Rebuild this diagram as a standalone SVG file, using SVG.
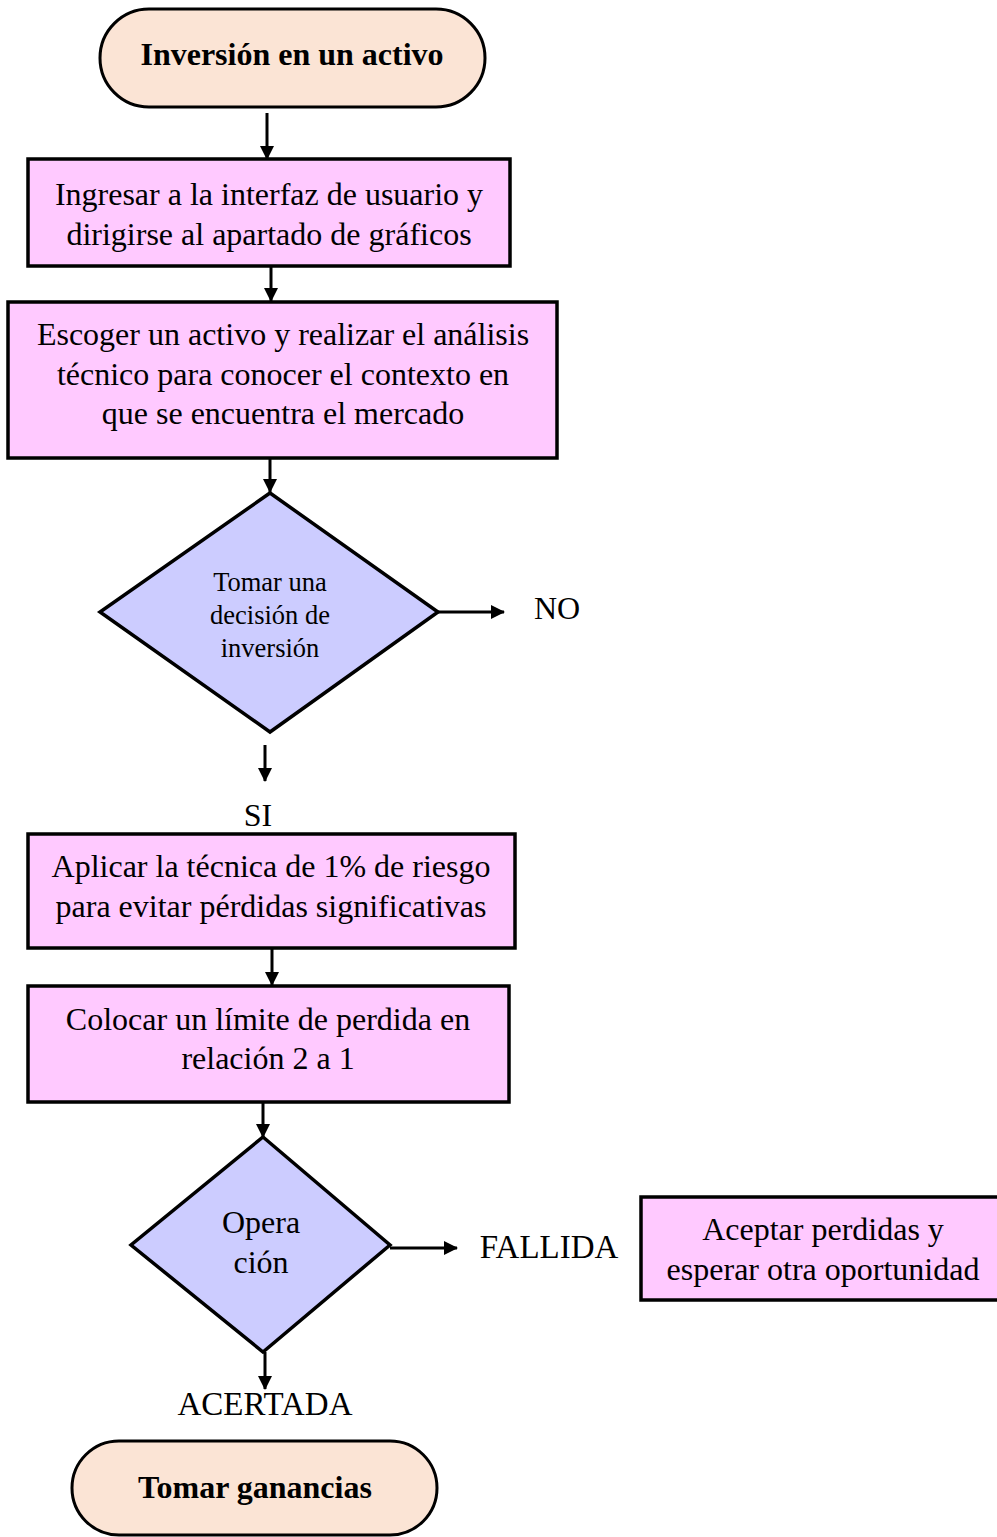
<svg xmlns="http://www.w3.org/2000/svg" width="997" height="1537" viewBox="0 0 997 1537">
<defs>
<marker id="ah" markerWidth="14" markerHeight="14" refX="13" refY="7" orient="auto" markerUnits="userSpaceOnUse" viewBox="0 0 14 14"><path d="M0,0 L14,7 L0,14 z" fill="#000"/></marker>
<style>
.term{fill:#fbe4d5;stroke:#000;stroke-width:3}
.box{fill:#ffc9ff;stroke:#000;stroke-width:3.5}
.dia{fill:#ccccff;stroke:#000;stroke-width:3.5}
.t{font-family:"Liberation Serif","Times New Roman",serif;font-size:32px;fill:#000;text-anchor:middle}
.b{font-weight:bold;font-size:32px}
.s{font-size:26.5px}
.l{font-size:33px}
.conn{stroke:#000;stroke-width:3;fill:none;marker-end:url(#ah)}
</style>
</defs>
<rect width="997" height="1537" fill="#fff"/>
<g id="connectors">
<line class="conn" x1="267" y1="113" x2="267" y2="159"/>
<line class="conn" x1="271" y1="266" x2="271" y2="301"/>
<line class="conn" x1="270" y1="458" x2="270" y2="492"/>
<line class="conn" x1="438" y1="612" x2="504" y2="612"/>
<line class="conn" x1="265" y1="745" x2="265" y2="781"/>
<line class="conn" x1="272" y1="948" x2="272" y2="985"/>
<line class="conn" x1="263" y1="1102" x2="263" y2="1137"/>
<line class="conn" x1="390" y1="1248" x2="457" y2="1248"/>
<line class="conn" x1="265" y1="1352" x2="265" y2="1389"/>
</g>
<g id="start">
<rect class="term" x="100" y="9" width="385" height="98" rx="49" ry="49"/>
<text class="t b" x="292" y="65">Inversión en un activo</text>
</g>
<g id="ingresar">
<rect class="box" x="28" y="159" width="482" height="107"/>
<text class="t" x="269" y="205">Ingresar a la interfaz de usuario y</text>
<text class="t" x="269" y="245">dirigirse al apartado de gráficos</text>
</g>
<g id="escoger">
<rect class="box" x="8" y="302" width="549" height="156"/>
<text class="t" x="283" y="345">Escoger un activo y realizar el análisis</text>
<text class="t" x="283" y="385">técnico para conocer el contexto en</text>
<text class="t" x="283" y="424">que se encuentra el mercado</text>
</g>
<g id="decision">
<polygon class="dia" points="270,493 438,612 270,732 100,612"/>
<text class="t s" x="270" y="591">Tomar una</text>
<text class="t s" x="270" y="624">decisión de</text>
<text class="t s" x="270" y="657">inversión</text>
</g>
<g id="no-label"><text class="t" x="557" y="619">NO</text></g>
<g id="si-label"><text class="t" x="258" y="826">SI</text></g>
<g id="aplicar">
<rect class="box" x="28" y="834" width="487" height="114"/>
<text class="t" x="271" y="877">Aplicar la técnica de 1% de riesgo</text>
<text class="t" x="271" y="917">para evitar pérdidas significativas</text>
</g>
<g id="colocar">
<rect class="box" x="28" y="986" width="481" height="116"/>
<text class="t" x="268" y="1030">Colocar un límite de perdida en</text>
<text class="t" x="268" y="1069">relación 2 a 1</text>
</g>
<g id="operacion">
<polygon class="dia" points="263,1137 390,1245 263,1352 131,1245"/>
<text class="t" x="261" y="1233">Opera</text>
<text class="t" x="261" y="1273">ción</text>
</g>
<g id="fallida-label"><text class="t l" x="549" y="1258">FALLIDA</text></g>
<g id="aceptar">
<rect class="box" x="641" y="1197" width="360" height="103"/>
<text class="t" x="823" y="1240">Aceptar perdidas y</text>
<text class="t" x="823" y="1280">esperar otra oportunidad</text>
</g>
<g id="acertada-label"><text class="t l" x="265" y="1415">ACERTADA</text></g>
<g id="end">
<rect class="term" x="72" y="1441" width="365" height="94" rx="47" ry="47"/>
<text class="t b" x="255" y="1498">Tomar ganancias</text>
</g>
</svg>
